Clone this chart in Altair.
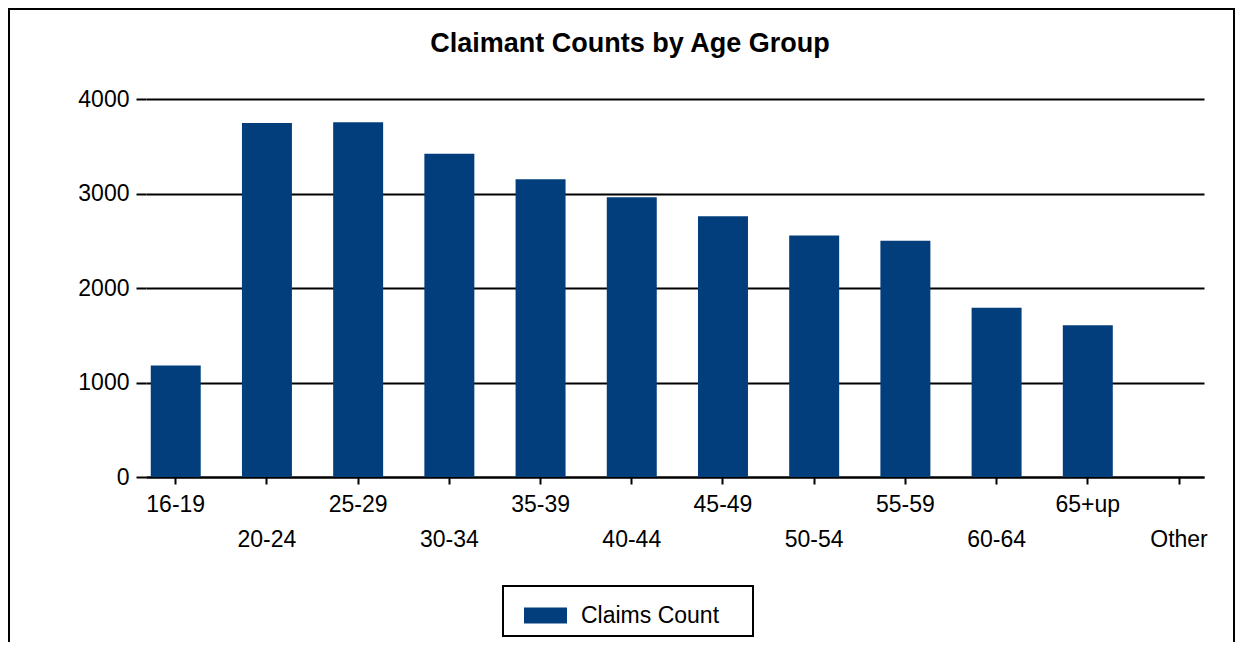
import json
import altair as alt
import pandas as pd

ages = ["16-19", "20-24", "25-29", "30-34", "35-39", "40-44",
        "45-49", "50-54", "55-59", "60-64", "65+up", "Other"]
counts = [1180, 3745, 3755, 3420, 3150, 2960, 2760, 2555, 2500, 1790, 1605, None]
series_name = "Claims Count"
y_ticks = [0, 1000, 2000, 3000, 4000]

df = pd.DataFrame({"age": ages, "count": counts, "series": [series_name] * len(ages)})

bar_color = "#023e7c"
font = "Liberation Sans"

odd_labels = ages[1::2]
label_expr = ("indexof(" + json.dumps(odd_labels) +
              ", datum.value) >= 0 ? ['', datum.label] : datum.label")

bars = alt.Chart(df).mark_bar().encode(
    x=alt.X(
        "age:N",
        sort=ages,
        scale=alt.Scale(domain=ages, paddingInner=0.452, paddingOuter=0.026, align=1),
        axis=alt.Axis(
            title=None, labelAngle=0, labelExpr=label_expr, labelLineHeight=35,
            labelFontSize=23, labelFont=font, labelColor="black", labelPadding=9,
            tickSize=7, tickColor="black", tickWidth=2,
            domainColor="black", domainWidth=2, grid=False,
            labelOverlap=False, labelBound=False,
        ),
    ),
    y=alt.Y(
        "count:Q",
        scale=alt.Scale(domain=[0, 4000], nice=False),
        axis=alt.Axis(
            title=None, values=y_ticks, format="d", grid=True, gridColor="black",
            gridWidth=2, domain=False, tickSize=10, tickColor="black", tickWidth=2,
            labelFontSize=23, labelFont=font, labelColor="black", labelPadding=7,
        ),
    ),
    color=alt.Color(
        "series:N",
        scale=alt.Scale(range=[bar_color]),
        legend=alt.Legend(
            title=None, orient="none", legendX=357, legendY=487,
            strokeColor="black", padding=8,
            symbolType="M-1,-0.37L1,-0.37L1,0.37L-1,0.37Z", symbolSize=1849,
            symbolStrokeWidth=0, symbolOffset=13, labelOffset=14,
            labelFontSize=23, labelFont=font, labelColor="black",
            labelExpr="datum.label + '\u00a0\u00a0\u00a0\u00a0\u200b'", labelLimit=400,
        ),
    ),
)

frame = alt.Chart(alt.Data(values=[{}])).mark_rect(
    fill="white", fillOpacity=0, stroke="black", strokeWidth=2
).encode(
    x=alt.value(-137), x2=alt.value(1088), y=alt.value(-90), y2=alt.value(620)
)

chart = alt.layer(frame, bars).properties(
    width=1058,
    height=378,
    padding={"left": 138, "top": 91, "right": 31, "bottom": 165},
    autosize=alt.AutoSizeParams(type="none"),
    view=alt.ViewBackground(stroke="transparent", strokeWidth=0),
    title=alt.Title(
        "Claimant Counts by Age Group", fontSize=27, fontWeight="bold", font=font,
        color="black", anchor="middle", frame="group", dx=-45, offset=-71,
        baseline="alphabetic",
    ),
).configure_view(strokeWidth=0, stroke="transparent").configure(
    background="white"
).configure_legend(strokeWidth=2)

chart.save("out.html", embed_options={"renderer": "svg", "actions": False})
